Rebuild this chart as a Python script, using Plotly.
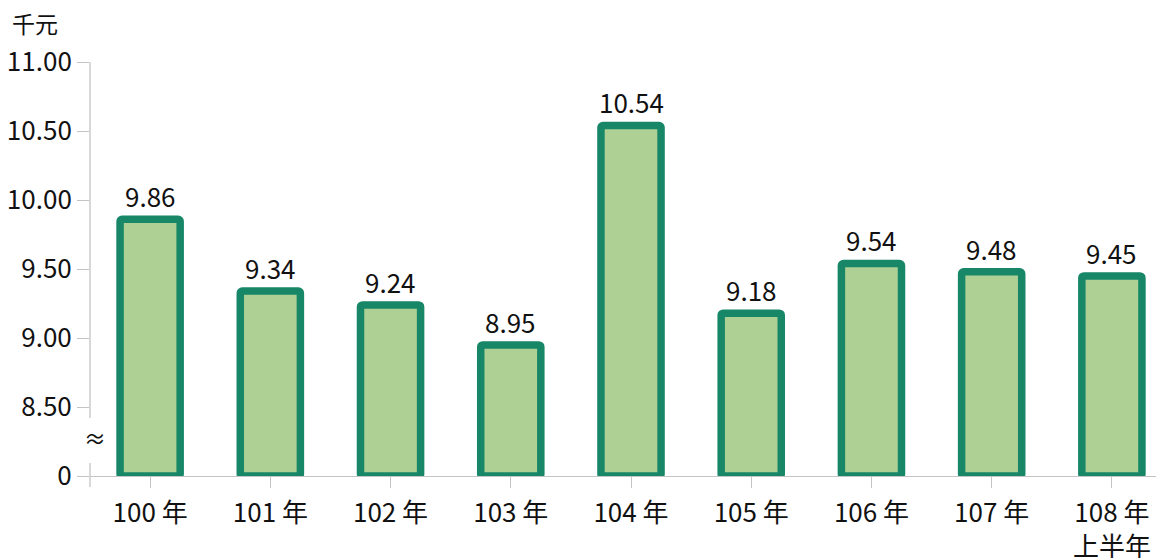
import plotly.graph_objects as go

categories = ["100 年", "101 年", "102 年", "103 年", "104 年", "105 年", "106 年", "107 年", "108 年<br>上半年"]
values = [9.86, 9.34, 9.24, 8.95, 10.54, 9.18, 9.54, 9.48, 9.45]
value_labels = ["9.86", "9.34", "9.24", "8.95", "10.54", "9.18", "9.54", "9.48", "9.45"]
tick_vals = [8.0, 8.5, 9.0, 9.5, 10.0, 10.5, 11.0]
tick_text = ["0", "8.50", "9.00", "9.50", "10.00", "10.50", "11.00"]
axis_base = 8.0
unit_label = "千元"

FONT = "Noto Sans CJK TC"
TXT = "#111111"
AX = "#c4c4c4"
FS = 26

fig = go.Figure()
fig.add_trace(go.Bar(
    x=list(range(len(categories))),
    y=[v - axis_base for v in values],
    base=axis_base,
    width=0.5,
    marker=dict(color="#aed094", line=dict(color="#178768", width=7.5), cornerradius=2),
    hoverinfo="skip",
))

for i, (v, t) in enumerate(zip(values, value_labels)):
    fig.add_annotation(x=i, y=v, text=t, showarrow=False, yanchor="bottom",
                       yshift=3, font=dict(family=FONT, size=FS, color=TXT))

# broken y-axis line
fig.add_shape(type="line", xref="x domain", yref="y domain", x0=0, x1=0, y0=0.14, y1=1.0,
              line=dict(color=AX, width=1.3))
fig.add_shape(type="line", xref="x domain", yref="y domain", x0=0, x1=0, y0=-0.0266, y1=0.0314,
              line=dict(color=AX, width=1.3))
fig.add_annotation(xref="x domain", yref="y domain", x=0.005, y=0.093, text="≈", showarrow=False,
                   font=dict(family=FONT, size=22, color=TXT), xanchor="center", yanchor="middle")
fig.add_annotation(xref="paper", yref="paper", x=-0.074, y=1.048, text=unit_label, showarrow=False,
                   xanchor="left", yanchor="bottom", font=dict(family=FONT, size=23, color=TXT))

fig.update_layout(
    width=1164, height=558,
    margin=dict(l=82, r=0, t=54, b=90, autoexpand=False),
    paper_bgcolor="white", plot_bgcolor="white",
    showlegend=False,
    font=dict(family=FONT, size=FS, color=TXT),
    xaxis=dict(
        range=[-0.5, 8.5], automargin=False,
        tickmode="array", tickvals=list(range(len(categories))), ticktext=categories,
        tickson="boundaries", ticks="outside", ticklen=11, tickcolor=AX, tickwidth=1.3,
        ticklabelstandoff=3,
        showline=True, linecolor=AX, linewidth=1.3, showgrid=False, zeroline=False,
        tickfont=dict(family=FONT, size=FS, color=TXT),
    ),
    yaxis=dict(
        range=[8.0, 11.0], automargin=False,
        tickmode="array", tickvals=tick_vals, ticktext=tick_text,
        ticks="outside", ticklen=12, tickcolor=AX, tickwidth=1.3,
        showline=False, showgrid=False, zeroline=False,
        tickfont=dict(family=FONT, size=FS, color=TXT),
    ),
)

fig.write_html("out.html")
